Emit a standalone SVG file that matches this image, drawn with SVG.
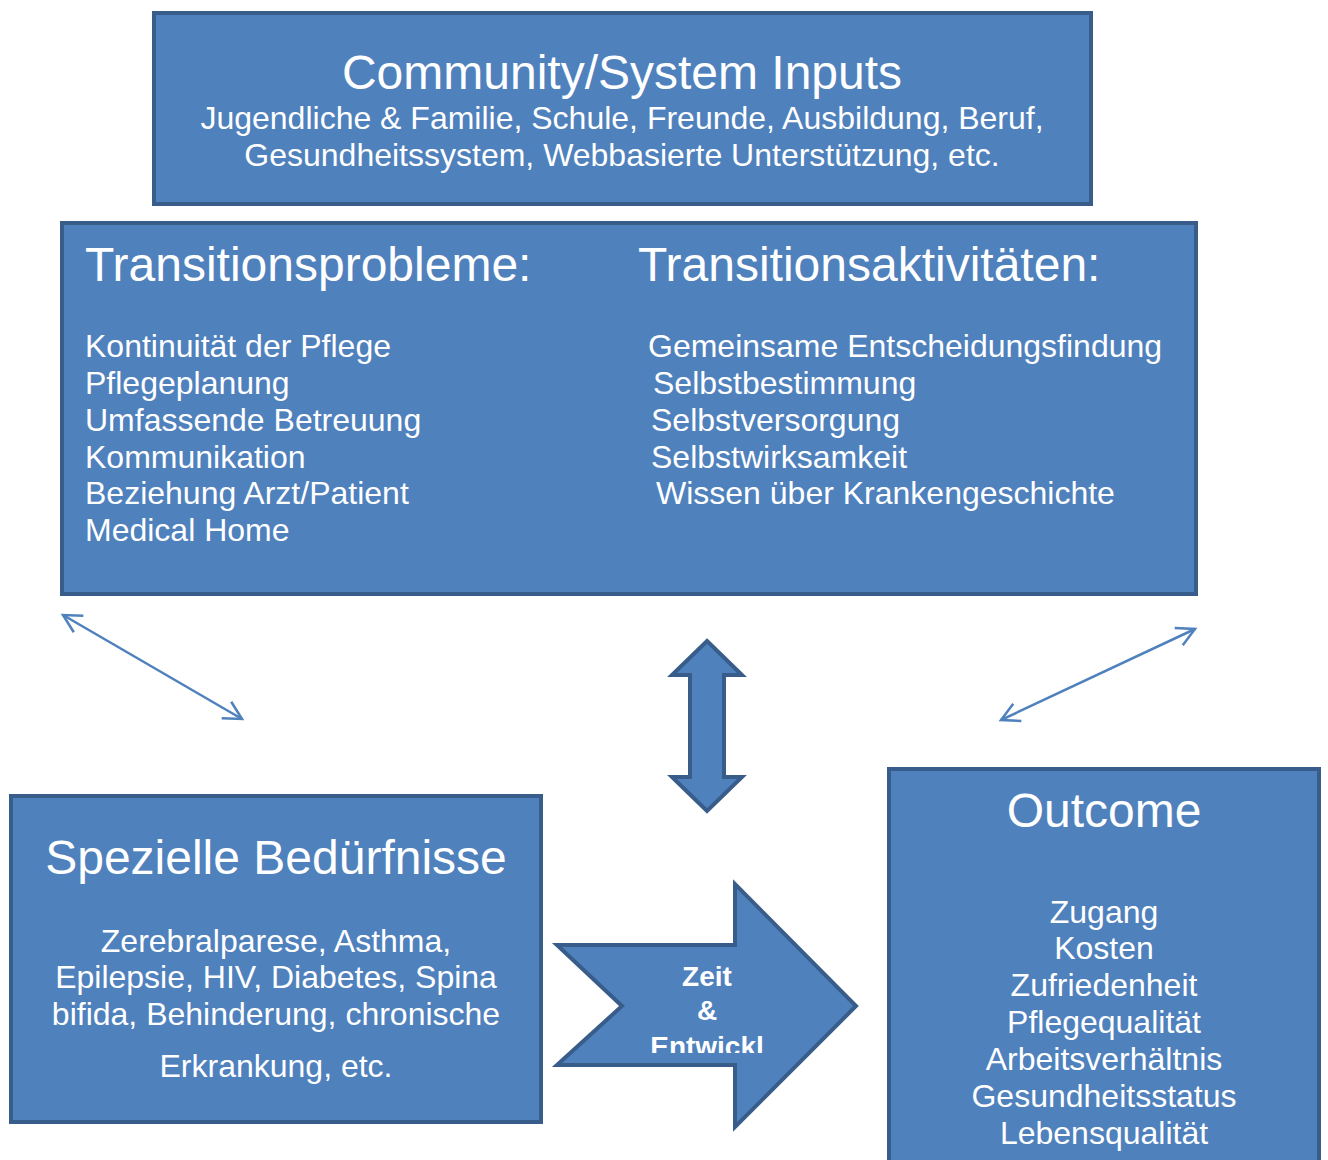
<svg xmlns="http://www.w3.org/2000/svg" width="1328" height="1160" viewBox="0 0 1328 1160">
<style>
.box{fill:#4F81BD;stroke:#385D8A;stroke-width:4}
.t{font-family:"Liberation Sans",Arial,sans-serif;fill:#fff}
.h{font-size:48px}
.b{font-size:32px}
.c{text-anchor:middle}
.ln{stroke:#4F81BD;stroke-width:2.5;fill:none}
</style>
<defs>
<marker id="open" viewBox="-22 -12 26 24" markerWidth="26" markerHeight="24" refX="0" refY="0" markerUnits="userSpaceOnUse" orient="auto-start-reverse">
<path d="M-18,-9.5 L0,0 L-18,9.5" fill="none" stroke="#4F81BD" stroke-width="2.5"/>
</marker>
<clipPath id="clipArrow"><rect x="590" y="950" width="240" height="103"/></clipPath>
</defs>
<rect width="1328" height="1160" fill="#fff"/>
<g id="inputs">
<rect class="box" x="154" y="13" width="937" height="191"/>
<text class="t h c" x="622" y="89">Community/System Inputs</text>
<text class="t b c" x="622" y="129">Jugendliche &amp; Familie, Schule, Freunde, Ausbildung, Beruf,</text>
<text class="t b c" x="622" y="166">Gesundheitssystem, Webbasierte Unterstützung, etc.</text>
</g>
<g id="transition">
<rect class="box" x="62" y="223" width="1134" height="371"/>
<text class="t h" x="85" y="281">Transitionsprobleme:</text>
<text class="t h" x="638" y="281">Transitionsaktivitäten:</text>
<text class="t b" x="85" y="357">Kontinuität der Pflege</text>
<text class="t b" x="85" y="394">Pflegeplanung</text>
<text class="t b" x="85" y="431">Umfassende Betreuung</text>
<text class="t b" x="85" y="468">Kommunikation</text>
<text class="t b" x="85" y="504">Beziehung Arzt/Patient</text>
<text class="t b" x="85" y="541">Medical Home</text>
<text class="t b" x="648" y="357">Gemeinsame Entscheidungsfindung</text>
<text class="t b" x="653" y="394">Selbstbestimmung</text>
<text class="t b" x="651" y="431">Selbstversorgung</text>
<text class="t b" x="651" y="468">Selbstwirksamkeit</text>
<text class="t b" x="656" y="504">Wissen über Krankengeschichte</text>
</g>
<g id="beduerfnisse">
<rect class="box" x="11" y="796" width="530" height="326"/>
<text class="t h c" x="276" y="874">Spezielle Bedürfnisse</text>
<text class="t b c" x="276" y="952">Zerebralparese, Asthma,</text>
<text class="t b c" x="276" y="988">Epilepsie, HIV, Diabetes, Spina</text>
<text class="t b c" x="276" y="1025">bifida, Behinderung, chronische</text>
<text class="t b c" x="276" y="1077">Erkrankung, etc.</text>
</g>
<g id="outcome">
<rect class="box" x="889" y="769" width="430" height="420"/>
<text class="t h c" x="1104" y="827">Outcome</text>
<text class="t b c" x="1104" y="923">Zugang</text>
<text class="t b c" x="1104" y="959">Kosten</text>
<text class="t b c" x="1104" y="996">Zufriedenheit</text>
<text class="t b c" x="1104" y="1033">Pflegequalität</text>
<text class="t b c" x="1104" y="1070">Arbeitsverhältnis</text>
<text class="t b c" x="1104" y="1107">Gesundheitsstatus</text>
<text class="t b c" x="1104" y="1144">Lebensqualität</text>
</g>
<g id="zeit">
<polygon class="box" points="557,945 735,945 735,884 856,1006 735,1127 735,1065 557,1065 622,1006"/>
<g clip-path="url(#clipArrow)">
<text class="t c" x="707" y="986" font-size="28" font-weight="bold">Zeit</text>
<text class="t c" x="707" y="1020" font-size="28" font-weight="bold">&amp;</text>
<text class="t c" x="707" y="1056" font-size="28" font-weight="bold">Entwickl</text>
</g>
</g>
<g id="connectors">
<polygon class="box" points="707,641 742,675 724,675 724,777 742,777 707,811 672,777 690,777 690,675 672,675"/>
<line class="ln" x1="63" y1="615" x2="242" y2="719" marker-start="url(#open)" marker-end="url(#open)"/>
<line class="ln" x1="1195" y1="629" x2="1001" y2="720" marker-start="url(#open)" marker-end="url(#open)"/>
</g>
</svg>
